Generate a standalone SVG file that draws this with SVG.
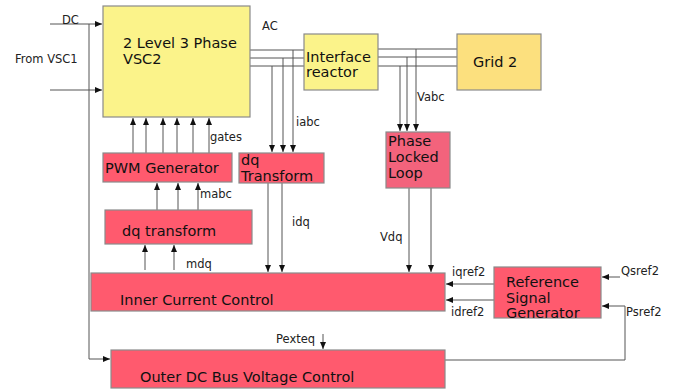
<svg xmlns="http://www.w3.org/2000/svg" width="675" height="392" viewBox="0 0 675 392">
<style>
.box{stroke:#8a8a8a;stroke-width:1.2}
.yel{fill:#FBF38A}
.grid{fill:#FCE07E}
.red{fill:#FF5A6E}
.pll{fill:#F3637C}
.t{font-family:"DejaVu Sans",Verdana,sans-serif;font-size:14.5px;fill:#111}
.l{font-family:"DejaVu Sans",Verdana,sans-serif;font-size:11.5px;fill:#222}
.c{fill:none;stroke:#555;stroke-width:1}
</style>
<defs>
<marker id="ah" markerUnits="userSpaceOnUse" markerWidth="8" markerHeight="8" viewBox="0 0 8 8" refX="7" refY="4" orient="auto">
<path d="M0,1 L7,4 L0,7 Z" fill="#111"/>
</marker>
</defs>
<rect width="675" height="392" fill="#fff"/>
<g id="connectors">
<path class="c" d="M50,24 H102" marker-end="url(#ah)"/>
<path class="c" d="M50,90 H102" marker-end="url(#ah)"/>
<path class="c" d="M89,24 V359 H110" marker-end="url(#ah)"/>
<path class="c" d="M250,50 H304 M250,58 H304 M250,66 H304"/>
<path class="c" d="M293,50 V152" marker-end="url(#ah)"/>
<path class="c" d="M283,58 V152" marker-end="url(#ah)"/>
<path class="c" d="M272,66 V152" marker-end="url(#ah)"/>
<path class="c" d="M378,49 H457 M378,57 H457 M378,66 H457"/>
<path class="c" d="M416,49 V131" marker-end="url(#ah)"/>
<path class="c" d="M407,57 V131" marker-end="url(#ah)"/>
<path class="c" d="M400,66 V131" marker-end="url(#ah)"/>
<path class="c" d="M133,153 V118" marker-end="url(#ah)"/>
<path class="c" d="M146,153 V118" marker-end="url(#ah)"/>
<path class="c" d="M163,153 V118" marker-end="url(#ah)"/>
<path class="c" d="M177,153 V118" marker-end="url(#ah)"/>
<path class="c" d="M193,153 V118" marker-end="url(#ah)"/>
<path class="c" d="M209,153 V118" marker-end="url(#ah)"/>
<path class="c" d="M157,210 V183" marker-end="url(#ah)"/>
<path class="c" d="M178,210 V183" marker-end="url(#ah)"/>
<path class="c" d="M198,210 V183" marker-end="url(#ah)"/>
<path class="c" d="M145,270 V245" marker-end="url(#ah)"/>
<path class="c" d="M174,270 V245" marker-end="url(#ah)"/>
<path class="c" d="M268,183 V272" marker-end="url(#ah)"/>
<path class="c" d="M282,183 V272" marker-end="url(#ah)"/>
<path class="c" d="M409,188 V272" marker-end="url(#ah)"/>
<path class="c" d="M431,188 V272" marker-end="url(#ah)"/>
<path class="c" d="M494,284 H446" marker-end="url(#ah)"/>
<path class="c" d="M494,300 H446" marker-end="url(#ah)"/>
<path class="c" d="M620,277 H602" marker-end="url(#ah)"/>
<path class="c" d="M445,360 H625 V306 H602" marker-end="url(#ah)"/>
<path class="c" d="M323,334 V349" marker-end="url(#ah)"/>
<text class="l" x="62" y="24">DC</text>
<text class="l" x="15" y="63">From VSC1</text>
<text class="l" x="262" y="30">AC</text>
<text class="l" x="296" y="126">iabc</text>
<text class="l" x="417" y="101">Vabc</text>
<text class="l" x="210" y="141">gates</text>
<text class="l" x="200" y="198">mabc</text>
<text class="l" x="186" y="268">mdq</text>
<text class="l" x="292" y="226">idq</text>
<text class="l" x="380" y="241">Vdq</text>
<text class="l" x="452" y="276">iqref2</text>
<text class="l" x="451" y="316">idref2</text>
<text class="l" x="621" y="275">Qsref2</text>
<text class="l" x="626" y="316">Psref2</text>
<text class="l" x="276" y="343">Pexteq</text>
</g>
<g id="vsc2">
<rect class="box yel" x="103" y="6" width="147" height="111"/>
<text class="t" x="123" y="48">2 Level 3 Phase</text>
<text class="t" x="123" y="64">VSC2</text>
</g>
<g id="reactor">
<rect class="box yel" x="304" y="34" width="74" height="56"/>
<text class="t" x="306" y="62">Interface</text>
<text class="t" x="306" y="77">reactor</text>
</g>
<g id="grid2">
<rect class="box grid" x="457" y="34" width="84" height="56"/>
<text class="t" x="473" y="67">Grid 2</text>
</g>
<g id="pll">
<rect class="box pll" x="386" y="132" width="64" height="56"/>
<text class="t" x="388" y="146">Phase</text>
<text class="t" x="388" y="162">Locked</text>
<text class="t" x="388" y="178">Loop</text>
</g>
<g id="dqT">
<rect class="box red" x="239" y="153" width="85" height="30"/>
<text class="t" x="241" y="165">dq</text>
<text class="t" x="241" y="181">Transform</text>
</g>
<g id="pwm">
<rect class="box red" x="103" y="153" width="129" height="29"/>
<text class="t" x="105" y="173">PWM Generator</text>
</g>
<g id="dqt2">
<rect class="box red" x="105" y="210" width="147" height="34"/>
<text class="t" x="122" y="236">dq transform</text>
</g>
<g id="icc">
<rect class="box red" x="91" y="273" width="354" height="38"/>
<text class="t" x="120" y="305">Inner Current Control</text>
</g>
<g id="rsg">
<rect class="box red" x="494" y="267" width="107" height="51"/>
<text class="t" x="506" y="287">Reference</text>
<text class="t" x="506" y="303">Signal</text>
<text class="t" x="506" y="318">Generator</text>
</g>
<g id="odc">
<rect class="box red" x="111" y="350" width="334" height="38"/>
<text class="t" x="140" y="382">Outer DC Bus Voltage Control</text>
</g>
</svg>
